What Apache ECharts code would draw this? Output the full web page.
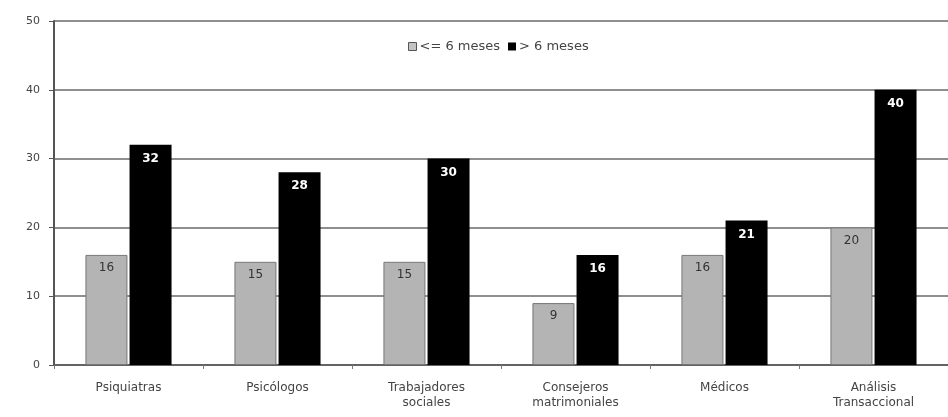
<!DOCTYPE html>
<html>
<head>
<meta charset="utf-8">
<script src="https://cdn.jsdelivr.net/npm/echarts@6/dist/echarts.min.js"></script>
<style>
  html, body { margin: 0; padding: 0; background: #fff; }
  #chart { width: 948px; height: 417px; }
</style>
</head>
<body>
<div id="chart"></div>
<script>
// Profesionales consultados, agrupados por duración del tratamiento
const categories = ['Psiquiatras', 'Psicólogos', 'Trabajadores\nsociales', 'Consejeros\nmatrimoniales', 'Médicos', 'Análisis\nTransaccional'];
const seriesNames = ['<= 6 meses', '> 6 meses'];
const hastaSeisMeses = [16, 15, 15, 9, 16, 20];
const masDeSeisMeses = [32, 28, 30, 16, 21, 40];
const yTicks = [0, 10, 20, 30, 40, 50];

const chart = echarts.init(document.getElementById('chart'));
const wideFont = 'DejaVu Sans, Verdana, sans-serif';
const labelFont = { fontFamily: wideFont, fontSize: 12, fontWeight: 'bold' };

chart.setOption({
  animation: false,
  backgroundColor: '#fff',
  textStyle: { fontFamily: wideFont },
  legend: {
    top: 35,
    left: 403,
    itemWidth: 8,
    itemHeight: 8,
    itemGap: 8,
    textStyle: { fontSize: 13, color: '#444', padding: [0, 0, 0, -2] },
    data: [
      { name: seriesNames[0], icon: 'rect', itemStyle: { color: '#c4c4c4', borderColor: '#555', borderWidth: 1 } },
      { name: seriesNames[1], icon: 'rect' }
    ]
  },
  grid: { left: 54, top: 21, right: -8, height: 344 },
  xAxis: {
    type: 'category',
    data: categories,
    axisLine: { lineStyle: { color: '#555', width: 1.5 } },
    axisTick: { show: true, lineStyle: { color: '#777' }, length: 4 },
    axisLabel: { color: '#444', fontSize: 12, lineHeight: 15, margin: 15 }
  },
  yAxis: {
    type: 'value',
    min: yTicks[0],
    max: yTicks[yTicks.length - 1],
    interval: 10,
    axisLine: { show: true, lineStyle: { color: '#555', width: 2 } },
    axisTick: { show: true, length: 5, lineStyle: { color: '#555' } },
    axisLabel: { color: '#444', fontSize: 11, margin: 14 },
    splitLine: { lineStyle: { color: '#6a6a6a', width: 1.5 } }
  },
  series: [
    {
      name: seriesNames[0],
      type: 'bar',
      data: hastaSeisMeses,
      barWidth: 42,
      barGap: '5%',
      itemStyle: { color: '#b4b4b4', borderColor: '#777', borderWidth: 1 },
      label: { show: true, position: 'insideTop', distance: 7, color: '#333', ...labelFont, fontWeight: 'normal' }
    },
    {
      name: seriesNames[1],
      type: 'bar',
      data: masDeSeisMeses,
      barWidth: 42,
      itemStyle: { color: '#000' },
      label: { show: true, position: 'insideTop', distance: 8, color: '#fff', ...labelFont }
    }
  ]
});
</script>
</body>
</html>
